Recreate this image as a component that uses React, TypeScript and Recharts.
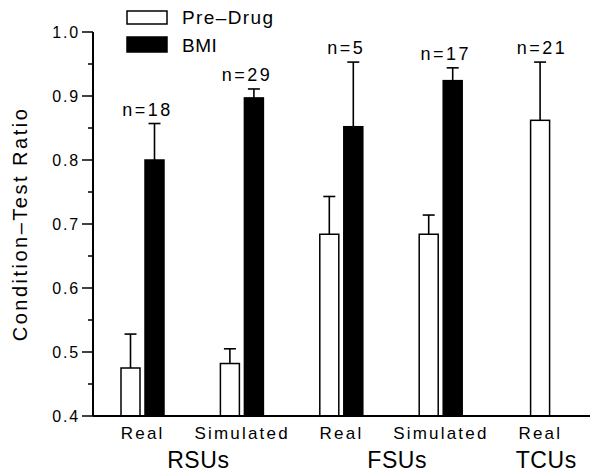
import React from "react";
import { BarChart, Bar, XAxis, YAxis, Legend } from "recharts";

const categories = ["RSU-Real", "RSU-Simulated", "FSU-Real", "FSU-Simulated", "TCU-Real"];
const subLabels = ["Real", "Simulated", "Real", "Simulated", "Real"];
const groupLabels = ["", "RSUs", "", "FSUs", "TCUs"];
const groupSpans = [0, 2, 0, 2, 1];
const preDrug = [0.475, 0.482, 0.684, 0.684, 0.862];
const preDrugErr = [0.053, 0.023, 0.059, 0.03, 0.091];
const bmi: (number | null)[] = [0.8, 0.897, 0.852, 0.924, null];
const bmiErr: (number | null)[] = [0.057, 0.014, 0.101, 0.02, null];
const cellCounts = ["n=18", "n=29", "n=5", "n=17", "n=21"];
const yTicks = [0.4, 0.45, 0.5, 0.55, 0.6, 0.65, 0.7, 0.75, 0.8, 0.85, 0.9, 0.95, 1.0];

const W = 590;
const H = 472;
const LEFT = 93;
const TOP = 32;
const BOTTOM = 56;
const PLOT_W = W - LEFT;
const BAR_SIZE = 19;
const BAR_GAP = 5;
const Y_MIN = 0.4;
const FONT = "'Liberation Sans', Arial, sans-serif";

const data = categories.map((cat, i) => ({
  cat,
  sub: subLabels[i],
  group: groupLabels[i],
  span: groupSpans[i],
  pre: preDrug[i],
  preErr: preDrugErr[i],
  bmi: bmi[i],
  bmiErr: bmiErr[i],
  n: cellCounts[i],
}));

// bar + one-sided error bar (+ n label on the last bar of the group)
function makeShape(series: "pre" | "bmi") {
  return (props: any) => {
    const { x, y, width, height, payload } = props;
    const value = series === "pre" ? payload.pre : payload.bmi;
    const err = series === "pre" ? payload.preErr : payload.bmiErr;
    const alone = series === "pre" && payload.bmi == null;
    const bx = alone ? x + (width + BAR_GAP) / 2 : x;
    const perUnit = height / (value - Y_MIN);
    const errY = y - err * perUnit;
    const cx = bx + width / 2;
    const showN = series === "bmi" || alone;
    return (
      <g>
        <line x1={cx} x2={cx} y1={y} y2={errY} stroke="#000" strokeWidth={1.6} />
        <line x1={cx - 6} x2={cx + 6} y1={errY} y2={errY} stroke="#000" strokeWidth={1.6} />
        <rect
          x={bx}
          y={y}
          width={width}
          height={height}
          fill={series === "pre" ? "#fff" : "#000"}
          stroke="#000"
          strokeWidth={1.5}
        />
        {showN && (
          <text
            x={alone ? cx + 2 : cx - 7}
            y={errY - 8}
            textAnchor="middle"
            fontSize={18}
            letterSpacing={2.5}
            fontFamily={FONT}
            fill="#000"
          >
            {payload.n}
          </text>
        )}
      </g>
    );
  };
}

const YTick = (props: any) => {
  const { x, y, payload } = props;
  const major = Math.round(payload.value * 100) % 10 === 0;
  return (
    <g>
      <line x1={x - (major ? 11 : 5)} x2={x} y1={y} y2={y} stroke="#000" strokeWidth={1.5} />
      {major && (
        <text
          x={x - 13}
          y={y + 6}
          textAnchor="end"
          fontSize={16}
          letterSpacing={1.8}
          fontFamily={FONT}
          fill="#000"
        >
          {payload.value.toFixed(1)}
        </text>
      )}
    </g>
  );
};

const XTick = (props: any) => {
  const { x, y, payload } = props;
  const row = data.find((d) => d.cat === payload.value);
  if (!row) return null;
  const band = PLOT_W / categories.length;
  const gx = x - (band * (row.span - 1)) / 2 + 6;
  return (
    <g>
      <text
        x={x}
        y={y + 23}
        textAnchor="middle"
        fontSize={17}
        letterSpacing={2.2}
        fontFamily={FONT}
        fill="#000"
      >
        {row.sub}
      </text>
      {row.group && (
        <text
          x={gx}
          y={y + 52}
          textAnchor="middle"
          fontSize={23}
          letterSpacing={0.6}
          fontFamily={FONT}
          fill="#000"
        >
          {row.group}
        </text>
      )}
    </g>
  );
};

const YTitle = (props: any) => {
  const { viewBox } = props;
  const cy = viewBox.y + viewBox.height / 2;
  const cx = 27;
  return (
    <text
      x={cx}
      y={cy}
      transform={`rotate(-90 ${cx} ${cy})`}
      textAnchor="middle"
      fontSize={20}
      letterSpacing={2.5}
      fontFamily={FONT}
      fill="#000"
    >
      Condition–Test Ratio
    </text>
  );
};

const LegendBox = () => (
  <svg width={220} height={50}>
    <rect x={3} y={3} width={40} height={13} fill="#fff" stroke="#000" strokeWidth={1.5} />
    <rect x={3} y={29} width={40} height={15} fill="#000" stroke="#000" strokeWidth={1.5} />
    <text x={58} y={16} fontSize={19} letterSpacing={1.4} fontFamily={FONT} fill="#000">
      Pre–Drug
    </text>
    <text x={58} y={44} fontSize={19} letterSpacing={0.5} fontFamily={FONT} fill="#000">
      BMI
    </text>
  </svg>
);

export default function App() {
  return (
    <div style={{ width: W, height: H, background: "#fff" }}>
      <style>{"body{margin:0;background:#fff}"}</style>
      <BarChart
        width={W}
        height={H}
        data={data}
        margin={{ top: TOP, right: 0, bottom: 0, left: 0 }}
        barSize={BAR_SIZE}
        barGap={BAR_GAP}
      >
        <XAxis
          dataKey="cat"
          tick={<XTick />}
          tickLine={false}
          tickSize={0}
          tickMargin={0}
          interval={0}
          axisLine={{ stroke: "#000", strokeWidth: 2 }}
          height={BOTTOM}
        />
        <YAxis
          width={LEFT}
          domain={[0.4, 1.0]}
          ticks={yTicks}
          interval={0}
          tick={<YTick />}
          tickLine={false}
          tickSize={0}
          tickMargin={0}
          axisLine={{ stroke: "#000", strokeWidth: 2 }}
          label={<YTitle />}
        />
        <Legend
          layout="vertical"
          align="center"
          verticalAlign="middle"
          content={<LegendBox />}
          wrapperStyle={{ top: 8, left: 124, width: 220 }}
        />
        <Bar dataKey="pre" name="Pre-Drug" shape={makeShape("pre")} isAnimationActive={false} />
        <Bar dataKey="bmi" name="BMI" shape={makeShape("bmi")} isAnimationActive={false} />
      </BarChart>
    </div>
  );
}
